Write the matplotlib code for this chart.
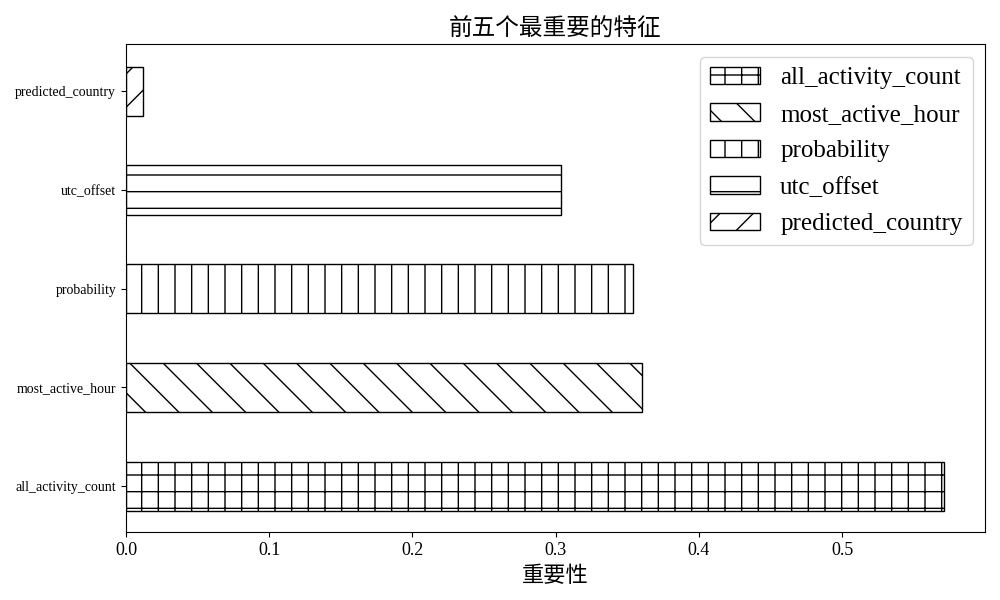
import matplotlib
matplotlib.use("Agg")
import matplotlib.pyplot as plt

plt.rcParams['font.family'] = ['Liberation Serif', 'Noto Sans CJK SC', 'DejaVu Sans']

features = ['all_activity_count', 'most_active_hour', 'probability', 'utc_offset', 'predicted_country']
importance = [0.5711, 0.3605, 0.3538, 0.3035, 0.0121]
hatches = ['+', '\\', '|', '-', '/']

fig = plt.figure(figsize=(10, 6), dpi=100)
ax = fig.add_axes([0.126, 0.113, 0.859, 0.813])

for i, (name, val, h) in enumerate(zip(features, importance, hatches)):
    ax.barh(i, val, height=0.5, color='white', edgecolor='black', hatch=h, label=name)

ax.set_yticks(range(len(features)))
ax.set_yticklabels(features, fontsize=10)
ax.set_xlim(0, max(importance) * 1.05)
ax.set_ylim(-0.466, 4.476)
ax.set_xticks([0.0, 0.1, 0.2, 0.3, 0.4, 0.5])
ax.set_xticklabels(['0.0', '0.1', '0.2', '0.3', '0.4', '0.5'], fontsize=13)

ax.set_title('前五个最重要的特征', fontsize=17, family=['Noto Sans CJK SC'])
ax.set_xlabel('重要性', fontsize=16, family=['Noto Sans CJK SC'], labelpad=4)
ax.legend(loc='upper right', fontsize=18, labelspacing=0.56)

fig.savefig('out.png')
